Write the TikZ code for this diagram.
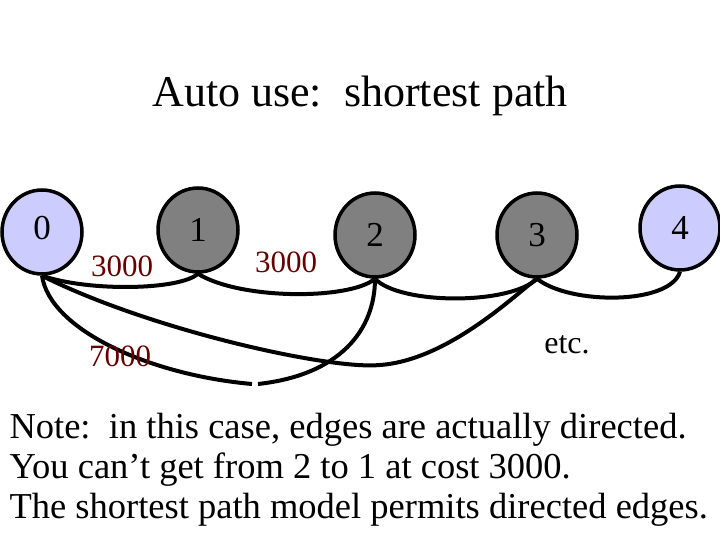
\documentclass[tikz,border=0pt]{standalone}
\usepackage{fontspec}
\setmainfont{Liberation Serif}
\usetikzlibrary{shapes.geometric}
\begin{document}
\begin{tikzpicture}[x=1pt,y=-1pt,
 vtx/.style={ellipse,draw=black,line width=3.5pt,minimum width=80pt,minimum height=84pt,inner sep=0pt,font=\fontsize{35}{35}\selectfont},
 light/.style={vtx,fill=blue!20},
 dark/.style={vtx,fill=black!50},
 edge/.style={line width=4pt},
 wt/.style={text=red!40!black,font=\fontsize{31}{31}\selectfont},
 txt/.style={font=\fontsize{36.5}{40}\selectfont,anchor=west}]
\useasboundingbox (0,0) rectangle (720,540);
\node[light] (n0) at (42,232) {\raisebox{8pt}{0}};
\node[dark] (n1) at (198,230) {1};
\node[dark] (n2) at (375,235) {2};
\node[dark] (n3) at (537,235) {3};
\node[light] (n4) at (680,228) {4};
\coordinate (g1) at (252,384);
\coordinate (g2) at (258,384);
\draw[edge] (n0.south) .. controls (90,292) and (180,290) .. (n1.south);
\draw[edge] (n1.south) .. controls (240,300) and (350,300) .. (n2.south);
\draw[edge] (n2.south) .. controls (400,305) and (510,305) .. (n3.south);
\draw[edge] (n3.south) .. controls (570,305) and (670,305) .. (n4.south);
\draw[edge] (n0.south) .. controls (150,330) and (330,370) .. (380,365) .. controls (450,360) and (520,290) .. (n3.south);
\draw[edge] (n0.south) .. controls (50,330) and (150,375) .. (g1);
\draw[edge] (g2) .. controls (340,375) and (375,330) .. (n2.south);
\node[wt] (w1) at (122,266) {3000};
\node[wt] (w2) at (286,262) {3000};
\node[wt] (w3) at (120,356) {7000};
\node[font=\fontsize{32}{32}\selectfont] (etc) at (567,345) {etc.};
\node[font=\fontsize{44}{44}\selectfont] (title) at (360,96) {Auto use:\ \ shortest path};
\node[txt] (l1) at (6,430) {Note:\ \ in this case, edges are actually directed.};
\node[txt] (l2) at (6,470) {You can’t get from 2 to 1 at cost 3000.};
\node[txt] (l3) at (6,510) {The shortest path model permits directed edges.};
\end{tikzpicture}
\end{document}
